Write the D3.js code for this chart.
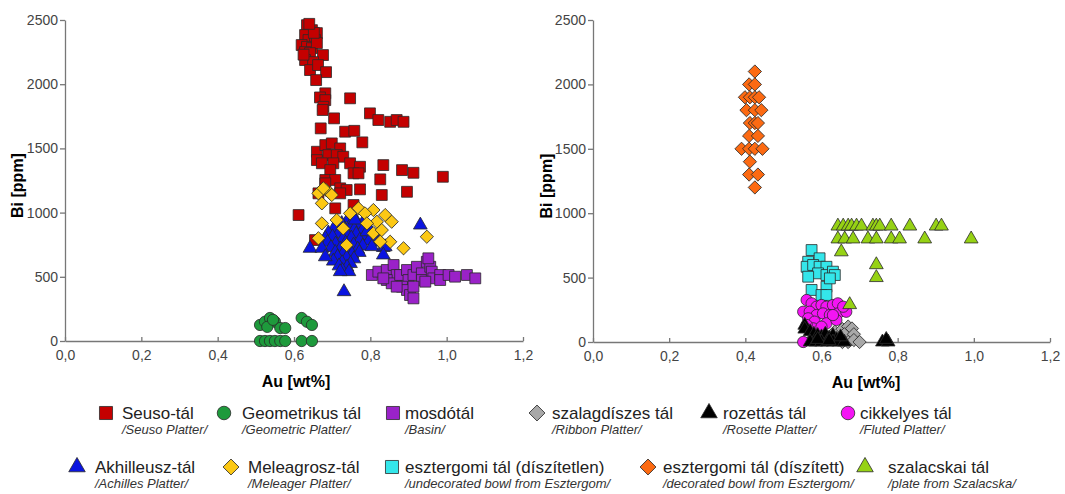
<!DOCTYPE html>
<html>
<head>
<meta charset="utf-8">
<script src="https://cdn.jsdelivr.net/npm/d3@7"></script>
<style>
  body { margin: 0; background: #fff; }
  svg { font-family: "Liberation Sans", Arial, sans-serif; }
  .axis path, .axis line { stroke: #777; stroke-width: 1.3; }
  .axis text { fill: #444; font-size: 14px; }
</style>
</head>
<body>
<svg id="chart" width="1065" height="494"></svg>
<script>
// data: [Au wt%, Bi ppm]
const seuso = [
  [0.634, 2460], [0.647, 2421], [0.660, 2398], [0.629, 2383], [0.638, 2344], [0.655, 2344],
  [0.620, 2305], [0.634, 2291], [0.647, 2281], [0.660, 2320], [0.629, 2250], [0.642, 2242],
  [0.676, 2227], [0.629, 2188], [0.650, 2172], [0.642, 2110], [0.663, 2149], [0.684, 2094],
  [0.658, 2032], [0.625, 2230], [0.652, 2400], [0.640, 2470],
  [0.682, 1929], [0.668, 1897], [0.682, 1876], [0.747, 1890], [0.677, 1824], [0.675, 1799],
  [0.705, 1734], [0.799, 1773], [0.821, 1721], [0.852, 1707], [0.869, 1721], [0.887, 1707],
  [0.670, 1656], [0.734, 1630], [0.758, 1637], [0.779, 1547],
  [0.660, 1474], [0.682, 1526], [0.699, 1539], [0.721, 1500], [0.660, 1409], [0.690, 1448],
  [0.712, 1448], [0.729, 1435], [0.673, 1384], [0.703, 1384], [0.747, 1384], [0.773, 1357],
  [0.834, 1370], [0.695, 1331], [0.756, 1306], [0.769, 1306], [0.883, 1331], [0.913, 1310],
  [0.990, 1279], [0.682, 1254], [0.708, 1254], [0.826, 1259], [0.721, 1189], [0.738, 1176],
  [0.773, 1181], [0.830, 1137], [0.896, 1162], [0.682, 1228], [0.664, 1150], [0.721, 1150],
  [0.708, 1033], [0.756, 1059], [0.612, 981], [0.655, 786]
]
const geometrikus = [
  [0.511, 0], [0.524, 0], [0.537, 0], [0.550, 0], [0.564, 0], [0.577, 0], [0.620, 0], [0.647, 0],
  [0.511, 125], [0.524, 150], [0.537, 179], [0.550, 150], [0.564, 101], [0.530, 110],
  [0.545, 165], [0.577, 101], [0.620, 179], [0.634, 150], [0.647, 125]
]
const mosdotal = [
  [0.804, 514], [0.821, 540], [0.843, 553], [0.861, 592], [0.869, 514], [0.843, 475],
  [0.856, 449], [0.878, 514], [0.896, 553], [0.900, 475], [0.913, 514], [0.922, 578],
  [0.935, 527], [0.935, 475], [0.948, 617], [0.957, 578], [0.961, 540], [0.965, 488],
  [0.983, 514], [0.983, 475], [1.005, 514], [1.022, 501], [1.053, 514], [1.075, 488],
  [0.883, 423], [0.896, 397], [0.904, 358], [0.913, 332], [0.913, 423], [0.869, 423],
  [0.944, 462], [0.952, 644], [0.834, 488]
]
const akhilleusz = [
  [0.743, 955], [0.762, 940], [0.781, 925], [0.725, 915], [0.748, 905], [0.770, 890],
  [0.792, 900], [0.705, 880], [0.733, 872], [0.758, 868], [0.779, 860], [0.801, 850],
  [0.690, 842], [0.716, 835], [0.739, 828], [0.763, 833], [0.787, 818], [0.812, 808],
  [0.682, 800], [0.701, 812], [0.728, 795], [0.750, 802], [0.772, 785], [0.796, 778],
  [0.823, 770], [0.688, 768], [0.709, 756], [0.735, 762], [0.756, 748], [0.780, 740],
  [0.804, 735], [0.697, 728], [0.721, 718], [0.744, 710], [0.767, 715], [0.834, 728],
  [0.708, 690], [0.729, 682], [0.752, 676], [0.771, 690], [0.714, 655], [0.738, 648],
  [0.757, 640], [0.703, 622], [0.726, 610], [0.748, 603], [0.718, 585], [0.739, 575],
  [0.727, 548], [0.744, 540], [0.721, 540], [0.642, 722], [0.673, 722], [0.682, 656],
  [0.931, 903], [0.731, 384], [0.839, 734], [0.834, 670], [0.760, 942], [0.791, 851]
]
const meleagrosz = [
  [0.668, 1162], [0.684, 1176], [0.695, 1150], [0.664, 1150], [0.677, 1189], [0.699, 1137],
  [0.673, 1072], [0.769, 1033], [0.808, 1020], [0.786, 994], [0.839, 981], [0.856, 929],
  [0.817, 929], [0.791, 916], [0.808, 839], [0.830, 864], [0.852, 773], [0.887, 722],
  [0.948, 812], [0.673, 916], [0.664, 800], [0.712, 942], [0.747, 994], [0.738, 747],
  [0.826, 773], [0.729, 877]
]
const szalagdiszes = [
  [0.635, 80], [0.655, 100], [0.670, 120], [0.680, 105], [0.660, 60], [0.685, 60],
  [0.655, 0], [0.670, 0], [0.685, 15], [0.700, 0]
]
const rozettas = [
  [0.556, 130], [0.556, 100], [0.570, 80], [0.580, 60], [0.590, 50], [0.600, 40],
  [0.610, 60], [0.620, 30], [0.630, 50], [0.640, 20], [0.570, 0], [0.585, 0], [0.600, 0],
  [0.615, 0], [0.630, 0], [0.645, 0], [0.660, 0], [0.760, 0], [0.775, 0], [0.770, 20],
  [0.590, 20], [0.620, 10], [0.650, 40]
]
const cikkelyes = [
  [0.561, 326], [0.574, 300], [0.587, 274], [0.600, 287], [0.613, 274], [0.630, 287],
  [0.643, 300], [0.552, 235], [0.569, 235], [0.587, 209], [0.604, 222], [0.622, 209],
  [0.643, 222], [0.665, 235], [0.565, 184], [0.582, 158], [0.613, 145], [0.639, 171],
  [0.578, 106], [0.600, 119], [0.561, 132], [0.657, 274], [0.630, 209], [0.552, 0]
]
const disztelen = [
  [0.574, 714], [0.565, 623], [0.595, 650], [0.561, 584], [0.578, 598], [0.595, 584],
  [0.613, 584], [0.591, 533], [0.613, 520], [0.630, 546], [0.635, 520], [0.574, 404],
  [0.613, 429], [0.600, 365], [0.613, 365], [0.565, 507], [0.622, 494]
]
const disztett = [
  [0.425, 2100], [0.410, 2000], [0.425, 2000], [0.399, 1900], [0.412, 1900], [0.425, 1900],
  [0.436, 1900], [0.403, 1800], [0.425, 1800], [0.442, 1800], [0.412, 1700], [0.425, 1700],
  [0.433, 1700], [0.410, 1600], [0.433, 1600], [0.390, 1500], [0.410, 1500], [0.425, 1500],
  [0.445, 1500], [0.412, 1400], [0.410, 1300], [0.433, 1300], [0.425, 1200]
]
const szalacska = [
  [0.643, 900], [0.657, 900], [0.670, 900], [0.679, 900], [0.692, 900], [0.705, 900],
  [0.735, 900], [0.744, 900], [0.753, 900], [0.783, 900], [0.832, 900], [0.901, 900],
  [0.915, 900], [0.643, 800], [0.661, 800], [0.683, 800], [0.722, 800], [0.744, 800],
  [0.783, 800], [0.805, 800], [0.871, 800], [0.993, 800], [0.652, 700], [0.744, 600],
  [0.744, 500], [0.674, 290]
]

const xTicks = [0, 0.2, 0.4, 0.6, 0.8, 1.0, 1.2]
const yTicks = [0, 500, 1000, 1500, 2000, 2500]

// series styles
const series = {
  seuso:        { data: seuso,        shape: 'square',   fill: '#c40000', hu: 'Seuso-tál', en: '/Seuso Platter/' },
  geometrikus:  { data: geometrikus,  shape: 'circle',   fill: '#1e9a3c', hu: 'Geometrikus tál', en: '/Geometric Platter/' },
  mosdotal:     { data: mosdotal,     shape: 'square',   fill: '#9a22c8', hu: 'mosdótál', en: '/Basin/' },
  szalagdiszes: { data: szalagdiszes, shape: 'diamond',  fill: '#a8a8a8', hu: 'szalagdíszes tál', en: '/Ribbon Platter/' },
  rozettas:     { data: rozettas,     shape: 'triangle', fill: '#000000', hu: 'rozettás tál', en: '/Rosette Platter/' },
  cikkelyes:    { data: cikkelyes,    shape: 'circle',   fill: '#f414f4', hu: 'cikkelyes tál', en: '/Fluted Platter/' },
  akhilleusz:   { data: akhilleusz,   shape: 'triangle', fill: '#0a14e0', hu: 'Akhilleusz-tál', en: '/Achilles Platter/' },
  meleagrosz:   { data: meleagrosz,   shape: 'diamond',  fill: '#fcc814', hu: 'Meleagrosz-tál', en: '/Meleager Platter/' },
  disztelen:    { data: disztelen,    shape: 'square',   fill: '#34e6ea', hu: 'esztergomi tál (díszítetlen)', en: '/undecorated bowl from Esztergom/' },
  disztett:     { data: disztett,     shape: 'diamond',  fill: '#fc6a12', hu: 'esztergomi tál (díszített)', en: '/decorated bowl from Esztergom/' },
  szalacska:    { data: szalacska,    shape: 'triangle', fill: '#96d214', hu: 'szalacskai tál', en: '/plate from Szalacska/' }
}

const svg = d3.select('#chart')

const symbolPath = (shape, big) => {
  const k = big ? 1.2 : 1
  if (shape === 'square') return d3.symbol(d3.symbolSquare, 118 * k * k)()
  if (shape === 'circle') return d3.symbol(d3.symbolCircle, 100 * k * k)()
  if (shape === 'diamond') return d3.symbol(d3.symbolSquare, 88 * k * k)()
  return d3.symbol(d3.symbolTriangle, 82 * k * k)()
}

const fmtX = d => d.toFixed(1).replace('.', ',')

const drawPlot = (left, right, bottom, top, keys, yLabelX, xLabelX) => {
  const x = d3.scaleLinear().domain([0, 1.2]).range([left, right])
  const y = d3.scaleLinear().domain([0, 2500]).range([bottom, top])
  const g = svg.append('g')

  g.append('g')
    .attr('class', 'axis')
    .attr('transform', `translate(0,${bottom})`)
    .call(d3.axisBottom(x).tickValues(xTicks).tickFormat(fmtX).tickSizeInner(-4).tickSizeOuter(0).tickPadding(9))
  g.append('g')
    .attr('class', 'axis')
    .attr('transform', `translate(${left},0)`)
    .call(d3.axisLeft(y).tickValues(yTicks).tickFormat(d3.format('d')).tickSizeInner(5).tickSizeOuter(0).tickPadding(2))

  g.append('text')
    .attr('transform', `translate(${yLabelX},${(top + bottom) / 2 + 5}) rotate(-90)`)
    .attr('text-anchor', 'middle')
    .style('font-size', '16px')
    .style('font-weight', 'bold')
    .text('Bi [ppm]')
  g.append('text')
    .attr('x', xLabelX)
    .attr('y', bottom + 46)
    .attr('text-anchor', 'middle')
    .style('font-size', '16px')
    .style('font-weight', 'bold')
    .text('Au [wt%]')

  keys.forEach(k => {
    const s = series[k]
    g.append('g')
      .selectAll('path')
      .data(s.data)
      .enter()
      .append('path')
      .attr('d', symbolPath(s.shape, false))
      .attr('transform', d => `translate(${x(d[0])},${y(d[1])})` + (s.shape === 'diamond' ? ' rotate(45)' : ''))
      .style('fill', s.fill)
      .style('stroke', '#2a2a2a')
      .style('stroke-width', 0.8)
  })
}

drawPlot(65, 523, 341, 20, ['seuso', 'geometrikus', 'mosdotal', 'akhilleusz', 'meleagrosz'], 23, 296)
drawPlot(593, 1050, 342, 20, ['disztelen', 'cikkelyes', 'szalagdiszes', 'rozettas', 'szalacska', 'disztett'], 552, 866)

// legend
const legendRows = [
  { y: 413, items: [['seuso', 106, 122], ['geometrikus', 224, 242], ['mosdotal', 393, 405], ['szalagdiszes', 537, 552], ['rozettas', 709, 723], ['cikkelyes', 848, 860]] },
  { y: 467, items: [['akhilleusz', 77, 95], ['meleagrosz', 231, 248], ['disztelen', 392, 405], ['disztett', 648, 663], ['szalacska', 865, 888]] }
]

legendRows.forEach(row => {
  row.items.forEach(([k, mx, tx]) => {
    const s = series[k]
    const lg = svg.append('g')
    lg.append('path')
      .attr('d', symbolPath(s.shape, true))
      .attr('transform', `translate(${mx},${row.y})` + (s.shape === 'diamond' ? ' rotate(45)' : ''))
      .style('fill', s.fill)
      .style('stroke', '#2a2a2a')
      .style('stroke-width', 0.8)
    lg.append('text')
      .attr('x', tx)
      .attr('y', row.y + 6)
      .style('font-size', '17px')
      .style('fill', '#222')
      .text(s.hu)
    lg.append('text')
      .attr('x', tx)
      .attr('y', row.y + 21)
      .style('font-size', '13px')
      .style('font-style', 'italic')
      .style('fill', '#333')
      .text(s.en)
  })
})
</script>
</body>
</html>
